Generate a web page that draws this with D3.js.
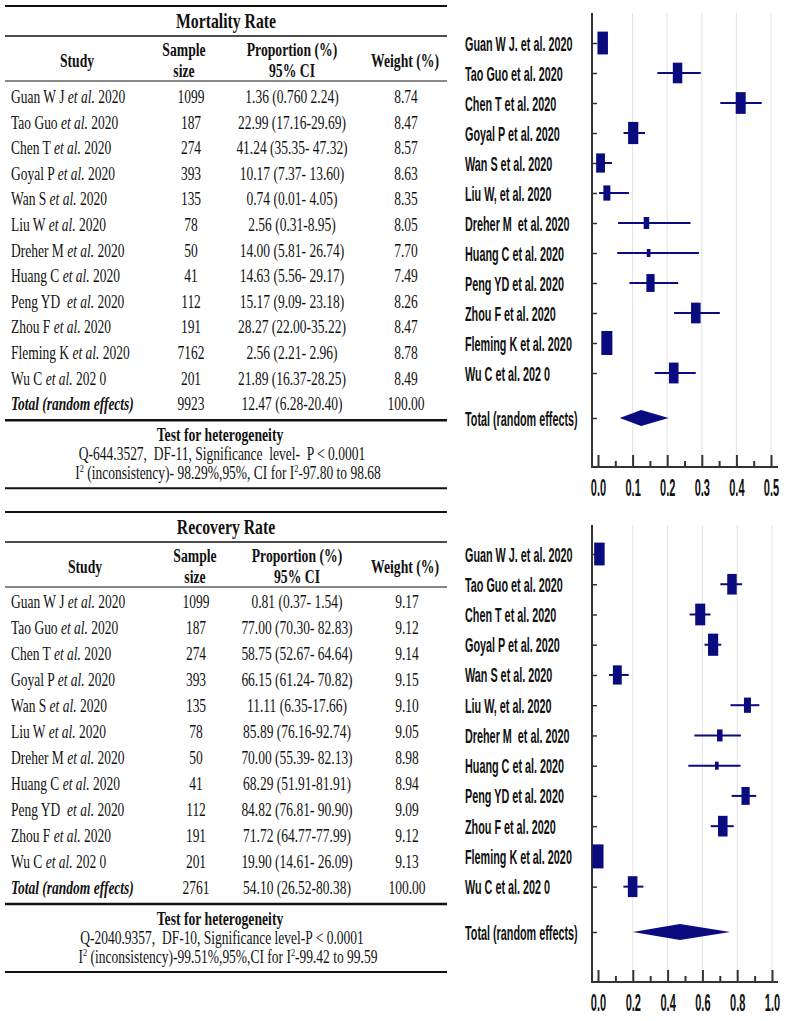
<!DOCTYPE html>
<html>
<head>
<meta charset="utf-8">
<script src="https://cdn.jsdelivr.net/npm/d3@7"></script>
<style>
  body { margin: 0; background: #fff; }
  svg text { white-space: pre; }
</style>
</head>
<body>
<script>
// ---- table data: mortality ----
const mortStudies = ["Guan W J", "Tao Guo", "Chen T", "Goyal P", "Wan S", "Liu W", "Dreher M", "Huang C", "Peng YD ", "Zhou F", "Fleming K", "Wu C"];
const mortYears = ["2020", "2020", "2020", "2020", "2020", "2020", "2020", "2020", "2020", "2020", "2020", "202 0"];
const mortN = ["1099", "187", "274", "393", "135", "78", "50", "41", "112", "191", "7162", "201"];
const mortCI = ["1.36 (0.760 2.24)", "22.99 (17.16-29.69)", "41.24 (35.35- 47.32)", "10.17 (7.37- 13.60)", "0.74 (0.01- 4.05)", "2.56 (0.31-8.95)", "14.00 (5.81- 26.74)", "14.63 (5.56- 29.17)", "15.17 (9.09- 23.18)", "28.27 (22.00-35.22)", "2.56 (2.21- 2.96)", "21.89 (16.37-28.25)"];
const mortWeight = ["8.74", "8.47", "8.57", "8.63", "8.35", "8.05", "7.70", "7.49", "8.26", "8.47", "8.78", "8.49"];
const mortTotal = ["9923", "12.47 (6.28-20.40)", "100.00"];
const mortHet = ["Q-644.3527,  DF-11, Significance  level-  P < 0.0001", ["I", "2", " (inconsistency)- 98.29%,95%, CI for I", "2", "-97.80 to 98.68"]];

// ---- table data: recovery ----
const recStudies = ["Guan W J", "Tao Guo", "Chen T", "Goyal P", "Wan S", "Liu W", "Dreher M", "Huang C", "Peng YD ", "Zhou F", "Wu C"];
const recYears = ["2020", "2020", "2020", "2020", "2020", "2020", "2020", "2020", "2020", "2020", "202 0"];
const recN = ["1099", "187", "274", "393", "135", "78", "50", "41", "112", "191", "201"];
const recCI = ["0.81 (0.37- 1.54)", "77.00 (70.30- 82.83)", "58.75 (52.67- 64.64)", "66.15 (61.24- 70.82)", "11.11 (6.35-17.66)", "85.89 (76.16-92.74)", "70.00 (55.39- 82.13)", "68.29 (51.91-81.91)", "84.82 (76.81- 90.90)", "71.72 (64.77-77.99)", "19.90 (14.61- 26.09)"];
const recWeight = ["9.17", "9.12", "9.14", "9.15", "9.10", "9.05", "8.98", "8.94", "9.09", "9.12", "9.13"];
const recTotal = ["2761", "54.10 (26.52-80.38)", "100.00"];
const recHet = ["Q-2040.9357,  DF-10, Significance level-P < 0.0001", ["I", "2", " (inconsistency)-99.51%,95%,CI for I", "2", "-99.42 to 99.59"]];

// ---- forest plot data ----
const plotLabels = ["Guan W J. et al. 2020", "Tao Guo et al. 2020", "Chen T et al. 2020", "Goyal P et al. 2020", "Wan S et al. 2020", "Liu W, et al. 2020", "Dreher M  et al. 2020", "Huang C et al. 2020", "Peng YD et al. 2020", "Zhou F et al. 2020", "Fleming K et al. 2020", "Wu C et al. 202 0"];
const plotN = [1099, 187, 274, 393, 135, 78, 50, 41, 112, 191, 7162, 201];

const mortEst = [0.0136, 0.2299, 0.4124, 0.1017, 0.0074, 0.0256, 0.1400, 0.1463, 0.1517, 0.2827, 0.0256, 0.2189];
const mortLo = [0.0076, 0.1716, 0.3535, 0.0737, 0.0001, 0.0031, 0.0581, 0.0556, 0.0909, 0.2200, 0.0221, 0.1637];
const mortHi = [0.0224, 0.2969, 0.4732, 0.1360, 0.0405, 0.0895, 0.2674, 0.2917, 0.2318, 0.3522, 0.0296, 0.2825];
const mortPooled = [0.1247, 0.0628, 0.2040];
const mortTicks = [0, 0.1, 0.2, 0.3, 0.4, 0.5];
const mortMinor = [0.05, 0.15, 0.25, 0.35, 0.45];

const recEst = [0.0081, 0.7700, 0.5875, 0.6615, 0.1111, 0.8589, 0.7000, 0.6829, 0.8482, 0.7172, 0.0000, 0.1990];
const recLo = [0.0037, 0.7030, 0.5267, 0.6124, 0.0635, 0.7616, 0.5539, 0.5191, 0.7681, 0.6477, 0.0000, 0.1461];
const recHi = [0.0154, 0.8283, 0.6464, 0.7082, 0.1766, 0.9274, 0.8213, 0.8191, 0.9090, 0.7799, 0.0020, 0.2609];
const recPooled = [0.471, 0.200, 0.760];
const recTicks = [0, 0.2, 0.4, 0.6, 0.8, 1.0];
const recMinor = [0.1, 0.3, 0.5, 0.7, 0.9];

const navy = "#0b0b80";
const serif = "'Liberation Serif', 'Times New Roman', serif";
const sans = "'Liberation Sans', Arial, sans-serif";

let svg = d3.select("body").append("svg")
  .attr("width", 790)
  .attr("height", 1021);

// squeezed text, the whole figure is horizontally compressed
function label(g, x, y, str, o) {
  return g.append("text")
    .attr("transform", "translate(" + x + "," + y + ") scale(" + o.sx + ",1)")
    .attr("text-anchor", o.anchor || "middle")
    .style("font-family", o.family || serif)
    .style("font-size", o.size + "px")
    .style("font-weight", o.bold ? "bold" : "normal")
    .style("font-style", o.italic ? "italic" : "normal")
    .style("fill", "#111")
    .text(str);
}

function hline(g, y, w) {
  g.append("line")
    .attr("x1", 5).attr("x2", 447)
    .attr("y1", y).attr("y2", y)
    .attr("stroke", "#111")
    .attr("stroke-width", w);
}

function drawTable(L, title, studies, years, ns, cis, weights, total, het) {
  let g = svg.append("g");
  let body = { size: 18, sx: 0.75 };
  let head = { size: 19, sx: 0.72, bold: true };

  hline(g, L.top, 2);
  label(g, 226, L.top + 22, title, { size: 21, sx: 0.75, bold: true });
  hline(g, L.top + 30, 1.5);

  label(g, L.study, L.top + 61, "Study", head);
  label(g, L.sampleH, L.top + 50, "Sample", head);
  label(g, L.sampleH, L.top + 71, "size", head);
  label(g, L.prop, L.top + 50, "Proportion (%)", head);
  label(g, L.prop, L.top + 71, "95% CI", head);
  label(g, L.weightH, L.top + 61, "Weight (%)", head);
  hline(g, L.top + 75, 1);

  let rowY = (i) => L.row0 + i * L.step + 6;

  studies.forEach((s, i) => {
    let t = label(g, 11, rowY(i), s + " ", Object.assign({ anchor: "start" }, body));
    t.append("tspan").style("font-style", "italic").text("et al.");
    t.append("tspan").text(" " + years[i]);
    label(g, L.sample, rowY(i), ns[i], body);
    label(g, L.prop, rowY(i), cis[i], body);
    label(g, L.weight, rowY(i), weights[i], body);
  });

  let n = studies.length;
  label(g, 11, rowY(n), "Total (random effects)", { size: 18, sx: 0.75, anchor: "start", bold: true, italic: true });
  label(g, L.sample, rowY(n), total[0], body);
  label(g, L.prop, rowY(n), total[1], body);
  label(g, L.weight, rowY(n), total[2], body);

  let base = L.row0 + n * L.step;
  hline(g, base + 16, 2.5);
  label(g, 220, base + 37, "Test for heterogeneity", head);
  label(g, 222, base + 56, het[0], body);
  let t = label(g, 228, base + 75, het[1][0], body);
  t.append("tspan").attr("dy", -7).style("font-size", "11px").text(het[1][1]);
  t.append("tspan").attr("dy", 7).text(het[1][2]);
  t.append("tspan").attr("dy", -7).style("font-size", "11px").text(het[1][3]);
  t.append("tspan").attr("dy", 7).text(het[1][4]);
  hline(g, base + 84, 2);
}

function drawForest(P, est, lo, hi, pooled, ticks, minor) {
  let g = svg.append("g");
  let xScale = d3.scaleLinear().domain([0, ticks[ticks.length - 1]]).range([598, P.xEnd]);
  let yScale = d3.scaleLinear().domain([0, 12.5]).range([P.row0, P.rowTotal]);
  // marker height grows with study size
  let hScale = d3.scaleLog().domain([41, 50, 150, 300, 7162]).range([8, 12, 20, 22, 24]).clamp(true);

  // grid
  g.selectAll(".grid")
    .data(ticks.slice(1))
    .enter()
    .append("line")
    .attr("x1", (d) => xScale(d)).attr("x2", (d) => xScale(d))
    .attr("y1", P.top).attr("y2", P.bottom)
    .attr("stroke", "#e3e3e3")
    .attr("stroke-width", 1);

  // x axis (ticks point up)
  let xAxis = g.append("g")
    .attr("transform", "translate(0," + P.bottom + ")")
    .call(d3.axisBottom(xScale).tickValues(ticks).tickSize(-12).tickFormat(d3.format(".1f")));
  xAxis.append("g")
    .call(d3.axisBottom(xScale).tickValues(minor).tickSize(-6).tickFormat(""));
  xAxis.selectAll(".domain").remove();
  xAxis.selectAll("line").attr("stroke", "#333").attr("stroke-width", 2);
  xAxis.selectAll("text")
    .attr("y", null).attr("dy", null)
    .attr("transform", "translate(0,29) scale(0.48,1)")
    .style("font-family", sans)
    .style("font-size", "23px")
    .style("font-weight", "bold")
    .style("fill", "#111");
  g.append("line")
    .attr("x1", 591).attr("x2", 778)
    .attr("y1", P.bottom).attr("y2", P.bottom)
    .attr("stroke", "#333").attr("stroke-width", 2);

  // y axis with a tick for every row
  let idx = d3.range(plotLabels.length).concat([12.5]);
  let yAxis = g.append("g")
    .attr("transform", "translate(592,0)")
    .call(d3.axisRight(yScale).tickValues(idx).tickSize(5).tickFormat(""));
  yAxis.selectAll(".domain").remove();
  yAxis.selectAll("line").attr("stroke", "#333").attr("stroke-width", 1.5);
  g.append("line")
    .attr("x1", 592).attr("x2", 592)
    .attr("y1", P.top).attr("y2", P.bottom)
    .attr("stroke", "#333").attr("stroke-width", 2);

  // study labels
  plotLabels.concat(["Total (random effects)"]).forEach((s, i) => {
    label(g, 465, yScale(idx[i]) + 7.5, s, { family: sans, size: 21, sx: 0.515, anchor: "start", bold: true });
  });

  // whiskers
  g.selectAll(".ci")
    .data(est)
    .enter()
    .append("line")
    .attr("x1", (d, i) => xScale(lo[i]))
    .attr("x2", (d, i) => xScale(hi[i]))
    .attr("y1", (d, i) => yScale(i))
    .attr("y2", (d, i) => yScale(i))
    .attr("stroke", navy)
    .attr("stroke-width", 2);

  // boxes
  g.selectAll(".box")
    .data(est)
    .enter()
    .append("rect")
    .attr("x", (d, i) => xScale(d) - hScale(plotN[i]) * 0.23)
    .attr("y", (d, i) => yScale(i) - hScale(plotN[i]) / 2)
    .attr("width", (d, i) => hScale(plotN[i]) * 0.46)
    .attr("height", (d, i) => hScale(plotN[i]))
    .attr("fill", navy);

  // pooled diamond
  let yt = yScale(12.5);
  g.append("path")
    .attr("d", d3.line()([
      [xScale(pooled[1]), yt],
      [xScale(pooled[0]), yt - 8],
      [xScale(pooled[2]), yt],
      [xScale(pooled[0]), yt + 8]
    ]) + "Z")
    .attr("fill", navy);
}

drawTable(
  { top: 6, row0: 97, step: 25.6, study: 77, sampleH: 184, sample: 191, prop: 292, weightH: 405, weight: 406 },
  "Mortality Rate", mortStudies, mortYears, mortN, mortCI, mortWeight, mortTotal, mortHet
);
drawTable(
  { top: 512, row0: 602, step: 26, study: 85, sampleH: 195, sample: 196, prop: 297, weightH: 405, weight: 407 },
  "Recovery Rate", recStudies, recYears, recN, recCI, recWeight, recTotal, recHet
);

drawForest({ top: 13, bottom: 467, row0: 43, rowTotal: 418, xEnd: 771 }, mortEst, mortLo, mortHi, mortPooled, mortTicks, mortMinor);
drawForest({ top: 525, bottom: 982, row0: 554, rowTotal: 932, xEnd: 772 }, recEst, recLo, recHi, recPooled, recTicks, recMinor);
</script>
</body>
</html>
